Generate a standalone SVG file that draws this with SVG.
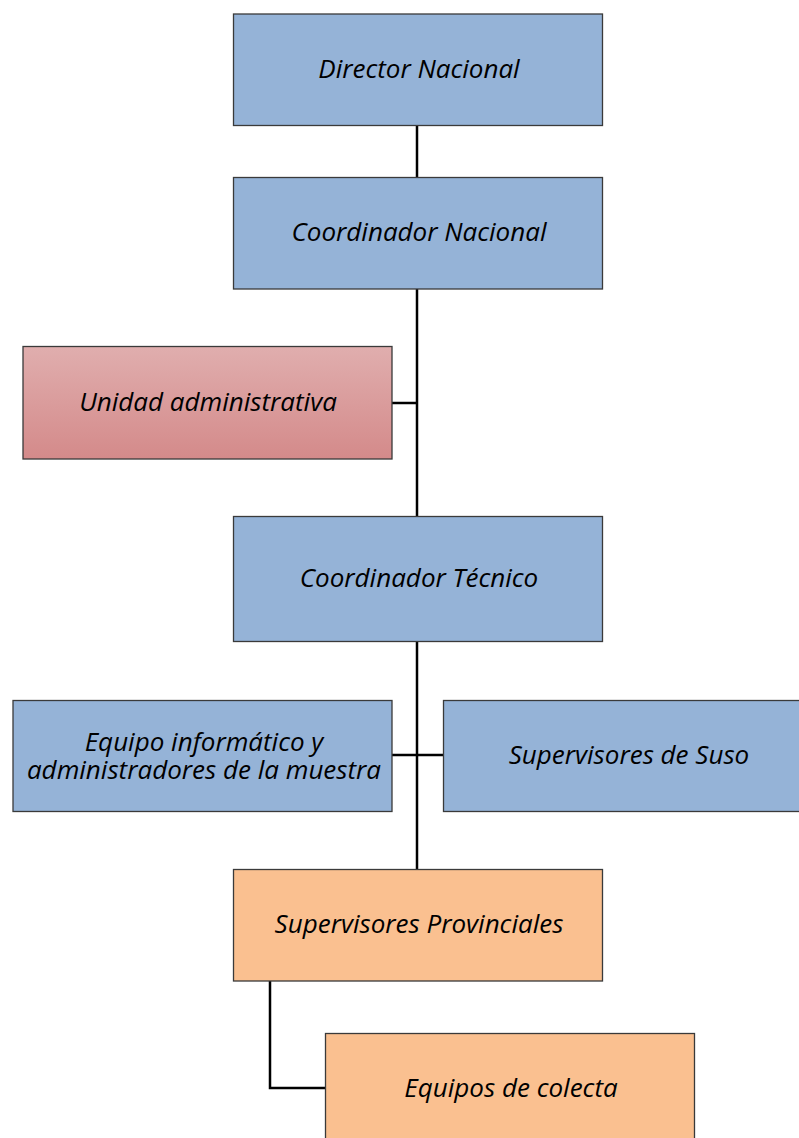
<svg xmlns="http://www.w3.org/2000/svg" width="799" height="1138" viewBox="0 0 799 1138">
<style>
.box{stroke:#3a3a3a;stroke-width:1.3}
.blue{fill:#95b3d7}
.orange{fill:#fac090}
.t{font-family:"Open Sans","Noto Sans",sans-serif;font-style:italic;font-size:26px;fill:#000;text-anchor:middle;dominant-baseline:central}
.c{stroke:#000;stroke-width:2.5;fill:none}
</style>
<defs>
<linearGradient id="red" x1="0" y1="0" x2="0" y2="1">
<stop offset="0" stop-color="#e0aeae"/>
<stop offset="1" stop-color="#d48a8a"/>
</linearGradient>
</defs>
<g id="connectors">
<path class="c" d="M417 125V177"/>
<path class="c" d="M417 289V516"/>
<path class="c" d="M392 403H417"/>
<path class="c" d="M417 641V869"/>
<path class="c" d="M392 755H443"/>
<path class="c" d="M270 981V1088H325"/>
</g>
<g id="director"><rect class="box blue" x="233.5" y="14" width="369" height="111.5"/><text class="t" x="419" y="68">Director Nacional</text></g>
<g id="coordNacional"><rect class="box blue" x="233.5" y="177.5" width="369" height="111.5"/><text class="t" x="419" y="231">Coordinador Nacional</text></g>
<g id="unidad"><rect class="box" fill="url(#red)" x="23" y="346.5" width="369" height="112.5"/><text class="t" x="208" y="401">Unidad administrativa</text></g>
<g id="coordTecnico"><rect class="box blue" x="233.5" y="516.5" width="369" height="125"/><text class="t" x="419" y="577">Coordinador Técnico</text></g>
<g id="equipoInf"><rect class="box blue" x="13" y="700.5" width="379" height="111"/><text class="t"><tspan x="204" y="741">Equipo informático y</tspan><tspan x="204" y="769">administradores de la muestra</tspan></text></g>
<g id="suso"><rect class="box blue" x="443.5" y="700.5" width="370" height="111"/><text class="t" x="629" y="754">Supervisores de Suso</text></g>
<g id="supProv"><rect class="box orange" x="233.5" y="869.5" width="369" height="111.5"/><text class="t" x="419" y="923">Supervisores Provinciales</text></g>
<g id="equipos"><rect class="box orange" x="325.5" y="1033.5" width="369" height="120"/><text class="t" x="511" y="1087">Equipos de colecta</text></g>
</svg>
